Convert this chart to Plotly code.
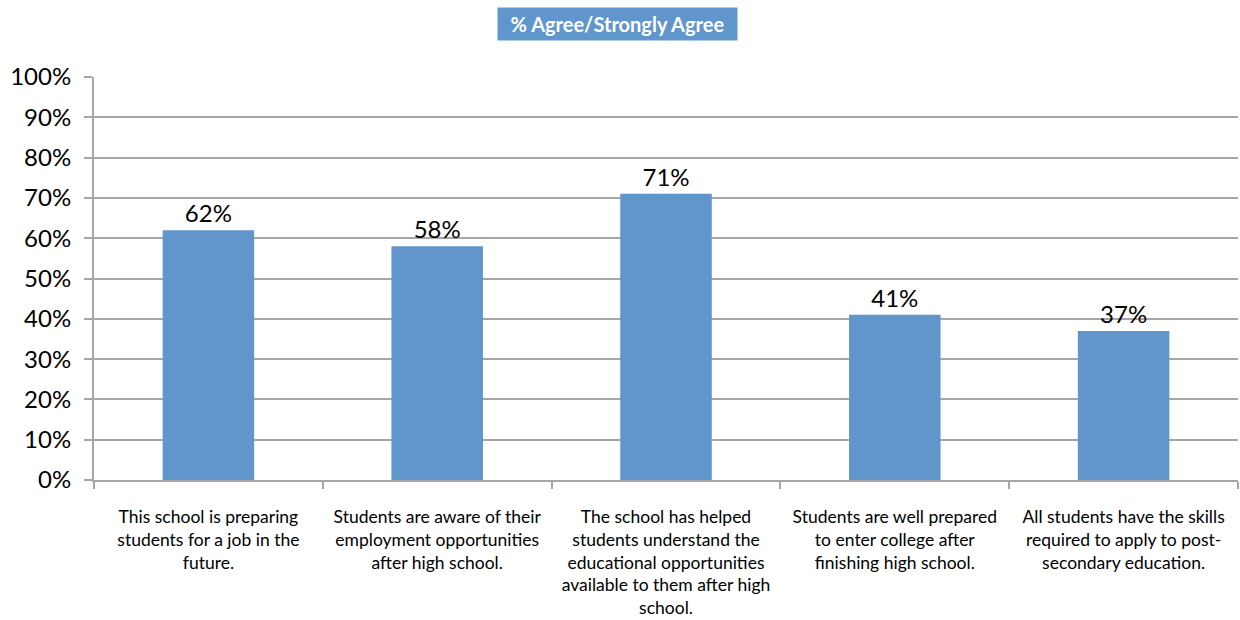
import plotly.graph_objects as go

categories = [
    "This school is preparing<br>students for a job in the<br>future.",
    "Students are aware of their<br>employment opportunities<br>after high school.",
    "The school has helped<br>students understand the<br>educational opportunities<br>available to them after high<br>school.",
    "Students are well prepared<br>to enter college after<br>finishing high school.",
    "All students have the skills<br>required to apply to post-<br>secondary education.",
]
agree_pct = [62, 58, 71, 41, 37]
y_ticks = [0, 10, 20, 30, 40, 50, 60, 70, 80, 90, 100]

bar_color = "#6096CB"
grid_color = "#A6A6A6"
font_family = "Lato, 'Open Sans', sans-serif"

fig = go.Figure(
    go.Bar(
        x=categories,
        y=agree_pct,
        marker=dict(color=bar_color, line=dict(width=0)),
        text=[f"{v}%" for v in agree_pct],
        textposition="outside",
        textfont=dict(size=24, color="#000000", family=font_family),
        cliponaxis=False,
    )
)

fig.update_layout(
    width=1240,
    height=620,
    margin=dict(l=94, r=2, t=77, b=140),
    paper_bgcolor="white",
    plot_bgcolor="white",
    bargap=0.6,
    showlegend=False,
    font=dict(family=font_family, color="#000000"),
    annotations=[
        dict(
            text="<b>% Agree/Strongly Agree</b>",
            xref="paper",
            yref="paper",
            x=0.4576,
            y=1.0,
            yshift=53,
            xanchor="center",
            yanchor="middle",
            showarrow=False,
            font=dict(size=20, color="white", family=font_family),
            bgcolor=bar_color,
            borderpad=0,
            width=239,
            height=32,
        )
    ],
)

fig.update_yaxes(
    range=[0, 100],
    tickvals=y_ticks,
    ticktext=[f"{v}%" for v in y_ticks],
    tickfont=dict(size=24, color="#000000"),
    showgrid=True,
    gridcolor=grid_color,
    gridwidth=1.5,
    showline=True,
    linecolor=grid_color,
    linewidth=2,
    ticks="outside",
    ticklen=8,
    tickcolor=grid_color,
    tickwidth=2,
    ticklabelstandoff=8,
    zeroline=False,
)

fig.update_xaxes(
    tickfont=dict(size=17.5, color="#000000"),
    showline=True,
    linecolor=grid_color,
    linewidth=2,
    ticks="outside",
    tickson="boundaries",
    ticklen=7,
    tickcolor=grid_color,
    tickwidth=2,
    ticklabelstandoff=20,
    showgrid=False,
)

fig.write_html("out.html")
